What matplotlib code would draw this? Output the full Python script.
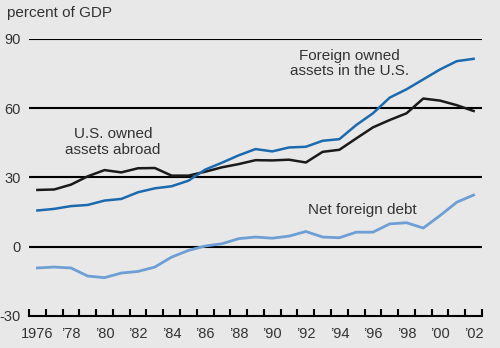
import numpy as np
import matplotlib.pyplot as plt

plt.rcParams['font.family'] = ['Liberation Sans', 'DejaVu Sans']

years = list(range(1976, 2003))

us_owned_abroad = [24.6, 24.8, 26.9, 30.5, 33.2, 32.2, 34.0, 34.1, 30.8, 30.8,
                   32.5, 34.4, 35.8, 37.5, 37.4, 37.7, 36.5, 41.1, 42.0, 46.9,
                   51.7, 54.9, 57.8, 64.2, 63.3, 61.3, 58.8]
foreign_owned_us = [15.7, 16.4, 17.6, 18.1, 20.0, 20.7, 23.6, 25.3, 26.2, 28.6,
                    33.4, 36.4, 39.6, 42.3, 41.3, 43.0, 43.3, 45.9, 46.6, 52.7,
                    57.8, 64.6, 68.2, 72.5, 76.8, 80.4, 81.4]
net_foreign_debt = [-9.2, -8.8, -9.2, -12.7, -13.4, -11.4, -10.7, -8.8, -4.5, -1.6,
                    0.3, 1.3, 3.5, 4.2, 3.7, 4.6, 6.6, 4.2, 3.9, 6.3,
                    6.3, 9.9, 10.4, 8.1, 13.5, 19.3, 22.4]

yticks = [-30, 0, 30, 60, 90]
xlabels = ['1976', '\u201978', '\u201980', '\u201982', '\u201984', '\u201986', '\u201988',
           '\u201990', '\u201992', '\u201994', '\u201996', '\u201998', '\u201900', '\u201902']

bg = '#e8e8e8'
txt = '#333333'
fs = 11

fig = plt.figure(figsize=(5, 3.48), dpi=100, facecolor=bg)
ax = fig.add_axes([0.058, 0.092, 0.906, 0.796], facecolor=bg)

for v in yticks[1:]:
    ax.axhline(v, color='black', lw=1.5, zorder=1)

ax.plot(years, us_owned_abroad, color='#1a1a1a', lw=1.8, zorder=3)
ax.plot(years, foreign_owned_us, color='#1c6aae', lw=1.8, zorder=3)
ax.plot(years, net_foreign_debt, color='#6d9fd5', lw=2.0, zorder=3)

ax.set_xlim(1975.5, 2002.5)
ax.set_ylim(-30, 90)

for s in ['top', 'right', 'left']:
    ax.spines[s].set_visible(False)
ax.spines['bottom'].set_linewidth(1.5)
ax.spines['bottom'].set_color('black')

ax.set_yticks(yticks)
ax.set_yticklabels([str(v) for v in yticks])
ax.tick_params(axis='y', length=0, pad=6, labelsize=10.5, labelcolor=txt)

ax.set_xticks(np.arange(1975.5, 2003, 1.0))
ax.set_xticklabels([])
ax.set_xticks(years[::2], minor=True)
ax.set_xticklabels(xlabels, minor=True)
ax.tick_params(axis='x', which='major', direction='in', length=5, width=1.5, color='black')
ax.tick_params(axis='x', which='minor', length=0, pad=8, labelsize=10.5, labelcolor=txt)

fig.text(0.014, 0.962, 'percent of GDP', fontsize=fs, color=txt, va='center', ha='left')
ax.text(1980.5, 45.3, 'U.S. owned\nassets abroad', fontsize=fs, color=txt,
        ha='center', va='center', linespacing=1.15)
ax.text(1994.6, 79.4, 'Foreign owned\nassets in the U.S.', fontsize=fs, color=txt,
        ha='center', va='center', linespacing=1.15)
ax.text(1995.35, 16.1, 'Net foreign debt', fontsize=fs, color=txt,
        ha='center', va='center')

fig.savefig('out.png', dpi=100, facecolor=bg)
